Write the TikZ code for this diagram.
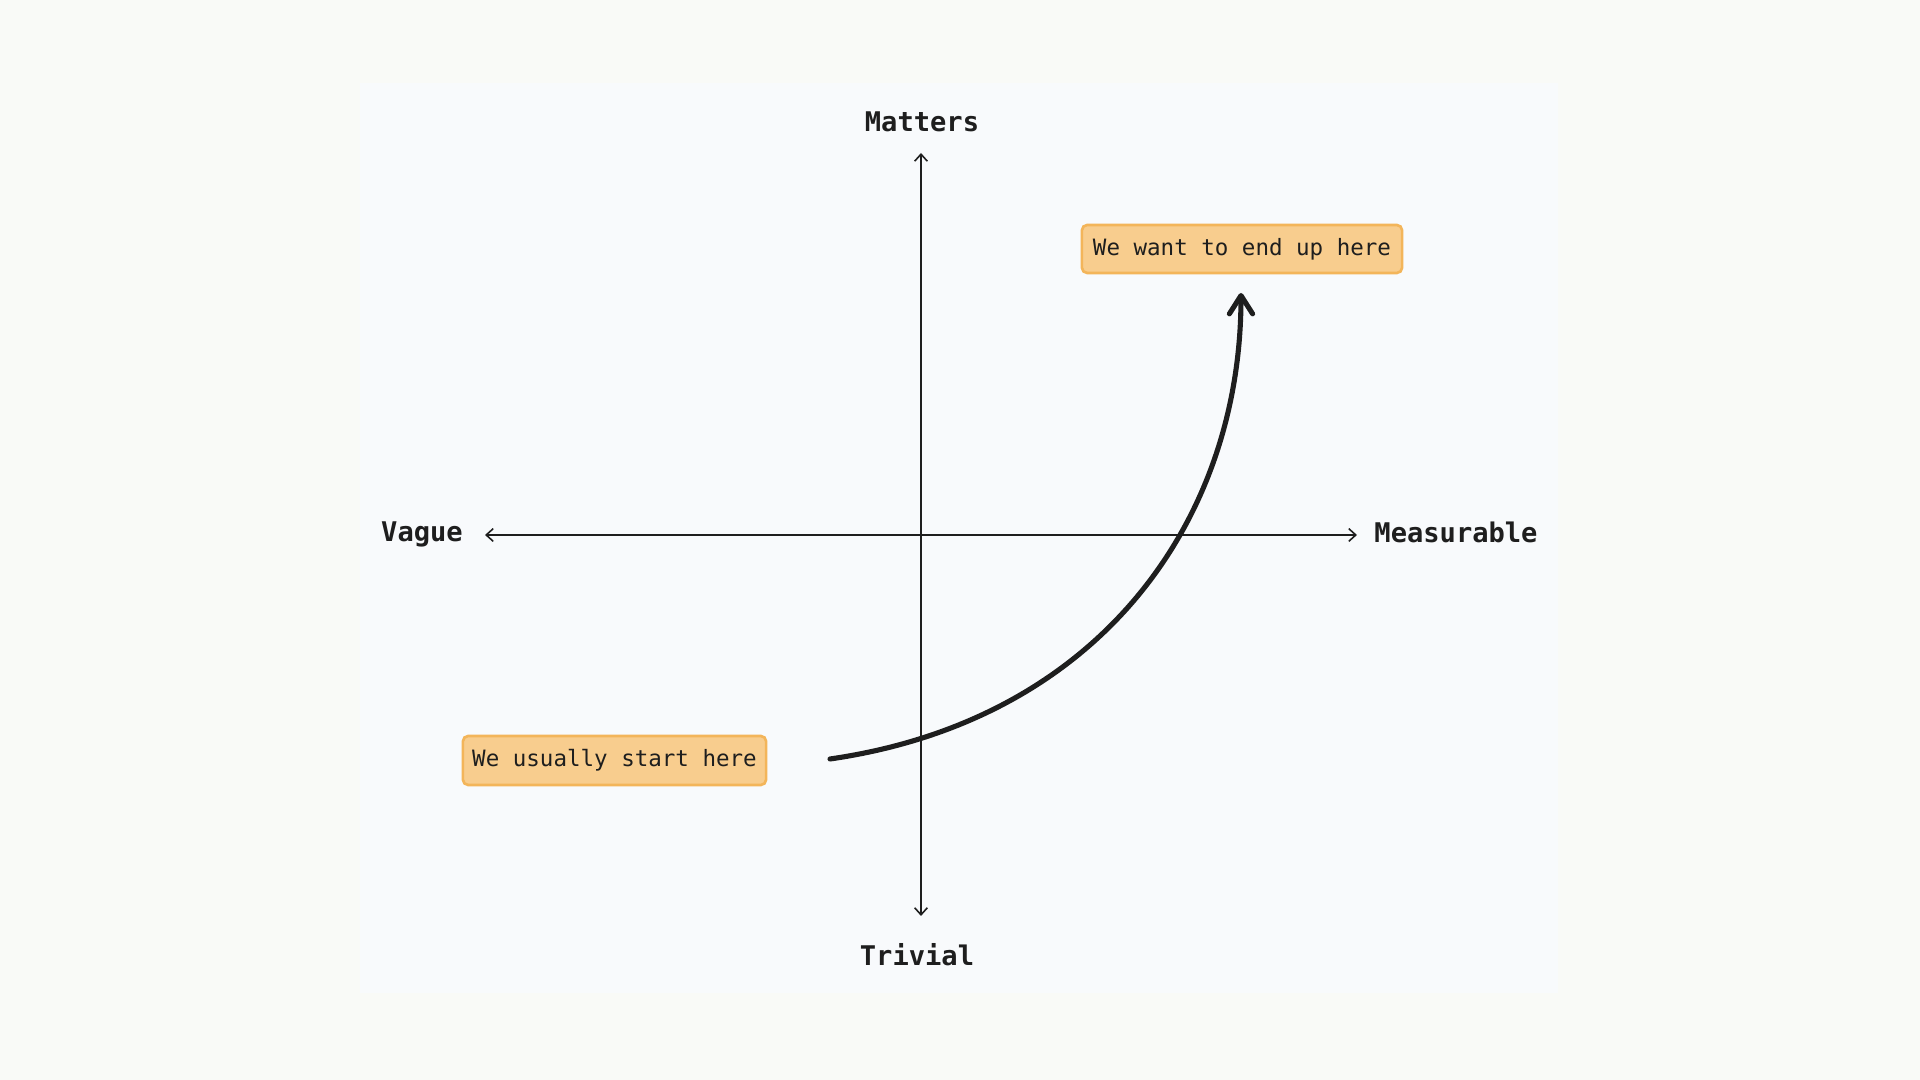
\documentclass[tikz,border=0pt]{standalone}
\usepackage{fontspec}
\setmonofont{DejaVu Sans Mono}
\usetikzlibrary{arrows.meta,positioning}
\definecolor{pagebg}{HTML}{F9FAF7}
\definecolor{panelbg}{HTML}{F8FAFC}
\definecolor{ink}{HTML}{1E1E1E}
\definecolor{notefill}{HTML}{F8CD8E}
\definecolor{notedraw}{HTML}{F3B55A}

\begin{document}
\begin{tikzpicture}[x=0.01cm,y=-0.01cm,
      axis/.style={ink,line width=0.45pt,{Straight Barb[length=2pt,width=3.6pt]}-{Straight Barb[length=2pt,width=3.6pt]}},
      axislabel/.style={ink,font=\ttfamily\bfseries\fontsize{7.7}{9}\selectfont,inner sep=0pt,anchor=base},
      note/.style={draw=notedraw,fill=notefill,line width=0.75pt,rounded corners=1.5pt,
        text=ink,font=\ttfamily\fontsize{6.4}{8}\selectfont,inner sep=0pt},
      path/.style={ink,line width=1.45pt,line cap=round,line join=round,
        -{Straight Barb[length=5.2pt,width=6.6pt,line cap=round,line join=round]}} ]
      % background and panel
      \fill[pagebg] (0,0) rectangle (1920,1080);
      \fill[panelbg] (360,83) rectangle (1558,993);
      % axes
      \coordinate (ytop) at (921,153);
      \coordinate (ybot) at (921,916);
      \coordinate (xleft) at (485,535);
      \coordinate (xright) at (1357,535);
      \draw[axis] (ybot) -- (ytop);
      \draw[axis] (xleft) -- (xright);
      \node[axislabel] (matters) at (922,132) {Matters};
      \node[axislabel] (trivial) at (917,966) {Trivial};
      \node[axislabel] (vague) at (422,542) {Vague};
      \node[axislabel] (measurable) at (1456,543) {Measurable};
      % notes
      \node[note,minimum width=3.2cm,minimum height=0.48cm] (goal) at (1242,249) {We want to end up here};
      \node[note,minimum width=3.03cm,minimum height=0.49cm] (start) at (614.5,760.5) {We usually start here};
      % path from start to goal
      \coordinate (from) at (830,759);
      \coordinate (to) at (1241,293);
      \draw[path] (from) .. controls (1100,720) and (1241,520) .. (to);
    \end{tikzpicture}
\end{document}
